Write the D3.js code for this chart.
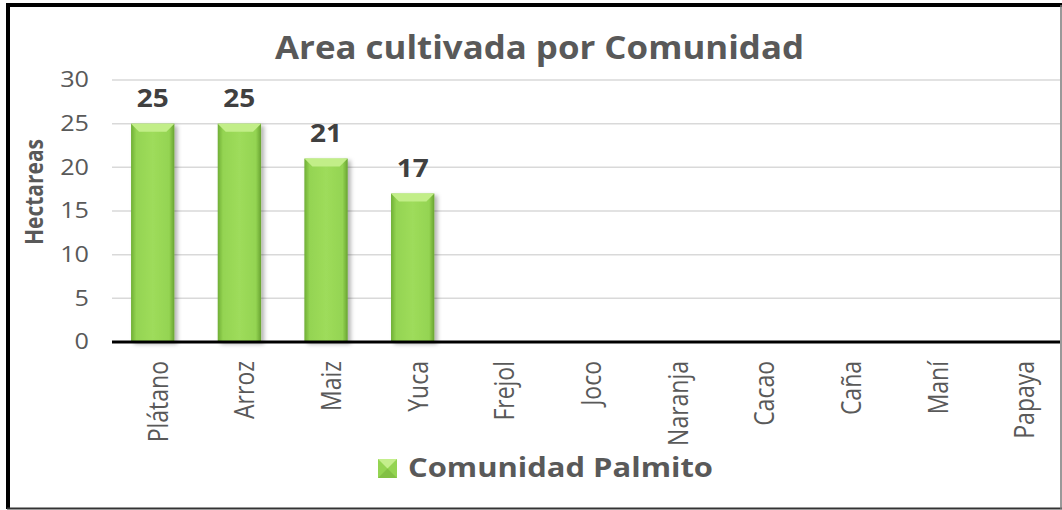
<!DOCTYPE html>
<html>
<head>
<meta charset="utf-8">
<script src="https://cdn.jsdelivr.net/npm/d3@7"></script>
<style>
  body { margin: 0; background: #fff; }
  svg { display: block; }
</style>
</head>
<body>
<svg id="chart" width="1062" height="510"></svg>
<script>
let cultivos = ["Plátano", "Arroz", "Maiz", "Yuca", "Frejol", "Joco", "Naranja", "Cacao", "Caña", "Maní", "Papaya"];
let hectareas = [25, 25, 21, 17, null, null, null, null, null, null, null];
let yTicks = [0, 5, 10, 15, 20, 25, 30];
let titulo = "Area cultivada por Comunidad";
let serie = "Comunidad Palmito";
let ejeY = "Hectareas";

let svg = d3.select("#chart");
let font = "'Open Sans', 'DejaVu Sans', sans-serif";

let x = d3.scaleBand().domain(cultivos).range([112, 1060]).paddingInner(0.5).paddingOuter(0.22);
let y = d3.scaleLinear().domain([0, 30]).range([342, 80]);

let defs = svg.append("defs");
let grad = defs.append("linearGradient").attr("id", "barGrad").attr("x1", 0).attr("x2", 1).attr("y1", 0).attr("y2", 0);
grad.append("stop").attr("offset", "0%").attr("stop-color", "#6fae35");
grad.append("stop").attr("offset", "12%").attr("stop-color", "#94d452");
grad.append("stop").attr("offset", "50%").attr("stop-color", "#9edc5b");
grad.append("stop").attr("offset", "88%").attr("stop-color", "#94d452");
grad.append("stop").attr("offset", "100%").attr("stop-color", "#68a331");

let shadow = defs.append("filter").attr("id", "shadow").attr("x", "-20%").attr("y", "-10%").attr("width", "150%").attr("height", "130%");
shadow.append("feDropShadow").attr("dx", 3).attr("dy", 2).attr("stdDeviation", 2).attr("flood-color", "#000").attr("flood-opacity", 0.3);

// frame
svg.append("rect").attr("x", 7).attr("y", 3).attr("width", 1060).attr("height", 4).attr("fill", "#000");
svg.append("rect").attr("x", 6).attr("y", 3).attr("width", 4).attr("height", 506).attr("fill", "#000");
svg.append("line").attr("x1", 7).attr("x2", 1062).attr("y1", 508.5).attr("y2", 508.5).attr("stroke", "#333").attr("stroke-width", 2);
svg.append("line").attr("x1", 1061).attr("x2", 1061).attr("y1", 5).attr("y2", 509).attr("stroke", "#777").attr("stroke-width", 1.5);

// title
svg.append("text")
    .attr("x", 275).attr("y", 59)
    .attr("textLength", 529).attr("lengthAdjust", "spacingAndGlyphs")
    .style("font-family", font).style("font-size", "32px").style("font-weight", "bold")
    .attr("fill", "#595959")
    .text(titulo);

// grid
svg.append("g").selectAll("line").data(yTicks.filter(t => t > 0)).join("line")
    .attr("x1", 112).attr("x2", 1060)
    .attr("y1", d => y(d)).attr("y2", d => y(d))
    .attr("stroke", "#d9d9d9").attr("stroke-width", 1.5);

// y axis
let yAxis = svg.append("g").attr("transform", "translate(89,0)")
    .call(d3.axisLeft(y).tickValues(yTicks).tickSize(0).tickPadding(0));
yAxis.select(".domain").remove();
yAxis.selectAll("text")
    .style("font-family", font).style("font-size", "21px")
    .attr("fill", "#595959")
    .each(function () {
        let t = d3.select(this);
        t.attr("textLength", this.getComputedTextLength() * 1.2).attr("lengthAdjust", "spacingAndGlyphs");
    });

svg.append("text")
    .attr("transform", "translate(43,192) scale(1.15,1) rotate(-90)")
    .attr("text-anchor", "middle")
    .style("font-family", font).style("font-size", "21px").style("font-weight", "bold")
    .attr("fill", "#595959")
    .text(ejeY);

// bars
let data = cultivos.map((c, i) => ({cultivo: c, valor: hectareas[i]})).filter(d => d.valor != null);
let bev = 8;
let bars = svg.append("g").selectAll("g").data(data).join("g");
bars.append("rect")
    .attr("x", d => x(d.cultivo)).attr("y", d => y(d.valor))
    .attr("width", x.bandwidth()).attr("height", d => y(0) - y(d.valor))
    .attr("fill", "url(#barGrad)")
    .attr("filter", "url(#shadow)");
bars.append("path")
    .attr("d", d => {
        let x0 = x(d.cultivo), x1 = x0 + x.bandwidth(), t = y(d.valor);
        return `M${x0},${t} L${x1},${t} L${x1 - bev},${t + bev} L${x0 + bev},${t + bev} Z`;
    })
    .attr("fill", "#c2ee88");

// value labels
svg.append("g").selectAll("text").data(data).join("text")
    .attr("x", d => x(d.cultivo) + x.bandwidth() / 2)
    .attr("y", d => y(d.valor) - 17)
    .attr("text-anchor", "middle")
    .style("font-family", font).style("font-size", "25px").style("font-weight", "bold")
    .attr("fill", "#404040")
    .text(d => d.valor)
    .each(function () {
        d3.select(this).attr("textLength", this.getComputedTextLength() * 1.12).attr("lengthAdjust", "spacingAndGlyphs");
    });

// x axis
svg.append("line").attr("x1", 112).attr("x2", 1060).attr("y1", y(0)).attr("y2", y(0))
    .attr("stroke", "#000").attr("stroke-width", 3);
svg.append("g").selectAll("text").data(cultivos).join("text")
    .attr("transform", d => `translate(${x(d) + x.bandwidth() / 2 + 15},361) scale(1.15,1) rotate(-90)`)
    .attr("text-anchor", "end")
    .style("font-family", font).style("font-size", "23px")
    .attr("fill", "#595959")
    .text(d => d);

// legend
let lg = svg.append("g").attr("transform", "translate(378,459)");
let s = 19;
lg.append("rect").attr("width", s).attr("height", s).attr("fill", "#94d452");
lg.append("path").attr("d", `M0,0 L${s},0 L${s / 2},${s / 2} Z`).attr("fill", "#c4ee8c");
lg.append("path").attr("d", `M0,${s} L${s / 2},${s / 2} L${s},${s} Z`).attr("fill", "#82c044");
lg.append("text")
    .attr("x", 30).attr("y", 18)
    .attr("textLength", 305).attr("lengthAdjust", "spacingAndGlyphs")
    .style("font-family", font).style("font-size", "26px").style("font-weight", "bold")
    .attr("fill", "#595959")
    .text(serie);
</script>
</body>
</html>
